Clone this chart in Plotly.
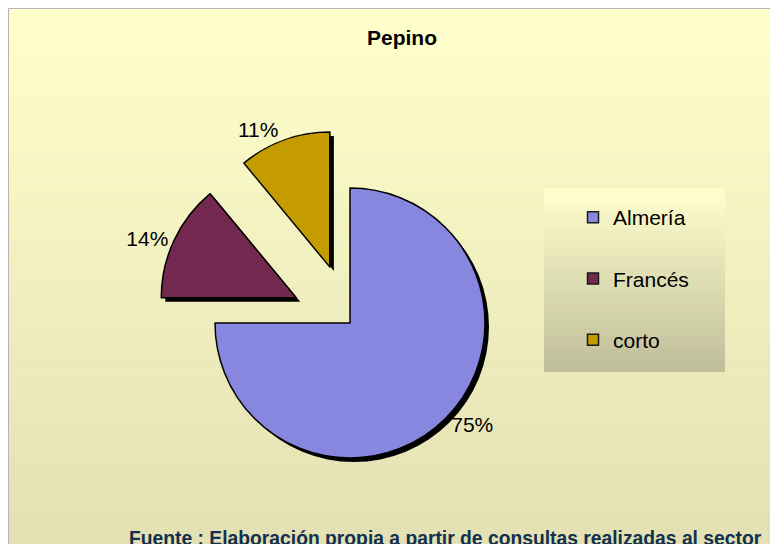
import plotly.graph_objects as go

# ---- data ----
categories = ["Almería", "Francés", "corto"]
values = [75, 14, 11]
colors = ["#8787e0", "#73284f", "#c49c00"]
pulls = [0, 0.44, 0.44]
title_text = "Pepino"
source_text = "Fuente : Elaboración propia a partir de consultas realizadas al sector"

# the page body adds an 8px margin; the figure fills the rest of the 778x544 window
OFF = 8
W, H = 778 - OFF, 544 - OFF
FONT = "Liberation Sans, Arial, sans-serif"


def lerp(c1, c2, t):
    return "rgb(%d,%d,%d)" % tuple(round(a + (b - a) * t) for a, b in zip(c1, c2))


def px_x(x):
    return (x - OFF) / W


def px_y(y):
    return 1 - (y - OFF) / H


# pie box (window pixels): centre and half-size of the domain
cx, cy, half = 350, 323, 194.4
dom = dict(x=[px_x(cx - half), px_x(cx + half)], y=[px_y(cy + half), px_y(cy - half)])
sh = 4
dom_shadow = dict(x=[px_x(cx - half + sh), px_x(cx + half + sh)],
                  y=[px_y(cy + half + sh), px_y(cy - half + sh)])

shapes = []
# chart area gradient background
top_px, bot_px, n = 9, 544, 70
for i in range(n):
    y0 = top_px + (bot_px - top_px) * i / n
    y1 = top_px + (bot_px - top_px) * (i + 1) / n + 0.6
    shapes.append(dict(type="rect", xref="paper", yref="paper", layer="below",
                       x0=px_x(OFF), x1=1.02, y0=px_y(y1), y1=px_y(y0),
                       fillcolor=lerp((255, 255, 204), (227, 224, 179), (i + 0.5) / n),
                       line=dict(width=0)))
# chart frame (top and left edges)
shapes.append(dict(type="line", xref="paper", yref="paper", layer="below",
                   x0=px_x(OFF + 0.5), x1=1.02, y0=px_y(8.5), y1=px_y(8.5),
                   line=dict(color="#b5b5b5", width=1)))
shapes.append(dict(type="line", xref="paper", yref="paper", layer="below",
                   x0=px_x(OFF + 0.5), x1=px_x(OFF + 0.5), y0=-0.02, y1=px_y(8.5),
                   line=dict(color="#b5b5b5", width=1)))
# legend box gradient
lx0, lx1, ly0, ly1, m = 544, 725, 188, 372, 40
for i in range(m):
    y0 = ly0 + (ly1 - ly0) * i / m
    y1 = ly0 + (ly1 - ly0) * (i + 1) / m + (0.6 if i < m - 1 else 0)
    shapes.append(dict(type="rect", xref="paper", yref="paper", layer="below",
                       x0=px_x(lx0), x1=px_x(lx1), y0=px_y(y1), y1=px_y(y0),
                       fillcolor=lerp((255, 255, 206), (190, 189, 153), (i + 0.5) / m),
                       line=dict(width=0)))

fig = go.Figure()

# shadow pie
fig.add_trace(go.Pie(values=values, labels=categories, pull=pulls, direction="clockwise",
                     sort=False, rotation=0, domain=dom_shadow, textinfo="none",
                     marker=dict(colors=["#000000"] * len(values), line=dict(width=0)),
                     showlegend=False, hoverinfo="skip"))
# main pie
fig.add_trace(go.Pie(values=values, labels=categories, pull=pulls, direction="clockwise",
                     sort=False, rotation=0, domain=dom,
                     texttemplate="%{percent:.0%}", textposition="outside",
                     textfont=dict(size=21, color="#000000", family=FONT),
                     marker=dict(colors=colors, line=dict(color="#000000", width=1.5)),
                     showlegend=False))

# legend entries
for name, col in zip(categories, colors):
    fig.add_trace(go.Scatter(x=[None], y=[None], mode="markers", name=name, legendgroup=name,
                             marker=dict(symbol="square", size=11, color=col,
                                         line=dict(color="#1a1a1a", width=1.5)),
                             showlegend=True, hoverinfo="skip"))

fig.add_annotation(text="<b>" + source_text + "</b>", xref="paper", yref="paper",
                   x=px_x(445), y=px_y(538), xanchor="center", yanchor="middle",
                   showarrow=False, font=dict(size=19.3, color="#12304f", family=FONT))

fig.update_layout(
    width=W, height=H, margin=dict(l=0, r=0, t=0, b=0, autoexpand=False),
    paper_bgcolor="#ffffff", plot_bgcolor="rgba(0,0,0,0)",
    font=dict(family=FONT, color="#000000"),
    title=dict(text="<b>" + title_text + "</b>", x=px_x(402), xanchor="center",
               y=px_y(38), yanchor="middle", yref="container",
               font=dict(size=21, color="#000000", family=FONT)),
    xaxis=dict(visible=False), yaxis=dict(visible=False),
    showlegend=True,
    legend=dict(x=px_x(573), y=px_y(197), xanchor="left", yanchor="top",
                bgcolor="rgba(0,0,0,0)", font=dict(size=21, color="#000000", family=FONT),
                tracegroupgap=31, traceorder="grouped"),
    shapes=shapes,
)

fig.write_html("out.html")
